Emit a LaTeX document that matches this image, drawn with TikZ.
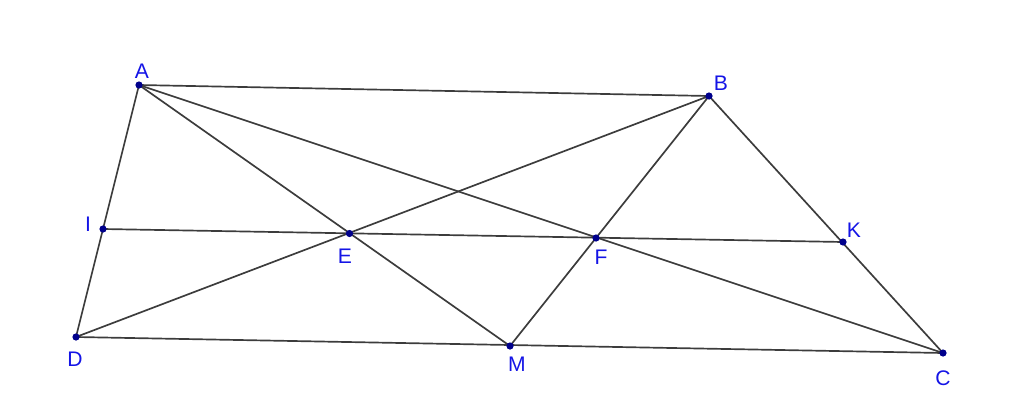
\documentclass[tikz,border=0pt]{standalone}
\usepackage{fontspec}
\setmainfont{Liberation Sans}
\usepackage{tikz}
\usetikzlibrary{calc,positioning}
\definecolor{ptblue}{RGB}{0,0,140}
\definecolor{lblblue}{RGB}{20,20,230}
\definecolor{segray}{RGB}{60,60,60}
\tikzset{seg/.style={segray,line width=1.2pt},
  pt/.style={ptblue},
  lbl/.style={lblblue,font=\fontsize{15}{17}\selectfont,inner sep=0pt}}

\begin{document}
\begin{tikzpicture}[x=0.025cm,y=-0.025cm]
\useasboundingbox (0,0) rectangle (1024,402);
\coordinate (A) at (139,85);
\coordinate (B) at (709,96);
\coordinate (C) at (943,353);
\coordinate (D) at (76,337);
\coordinate (I) at (103,229);
\coordinate (K) at (843,242);
\coordinate (E) at (349.5,233.5);
\coordinate (F) at (596,238);
\coordinate (M) at (510,346);
\draw[seg] (A) -- (B) -- (C) -- (D) -- cycle;
\draw[seg] (I) -- (K);
\draw[seg] (A) -- (M) -- (B) -- (D);
\draw[seg] (A) -- (C);
\foreach \p in {A,B,C,D,I,K,E,F,M}
  \fill[pt] (\p) circle (3.6);
\node[lbl] (lA) at (142,71) {A};
\node[lbl] (lB) at (721,83) {B};
\node[lbl] (lC) at (943,378) {C};
\node[lbl] (lD) at (75,359) {D};
\node[lbl] (lI) at (88,224) {I};
\node[lbl] (lK) at (854,230) {K};
\node[lbl] (lE) at (345,256) {E};
\node[lbl] (lF) at (601,257) {F};
\node[lbl] (lM) at (517,364) {M};
\end{tikzpicture}
\end{document}
